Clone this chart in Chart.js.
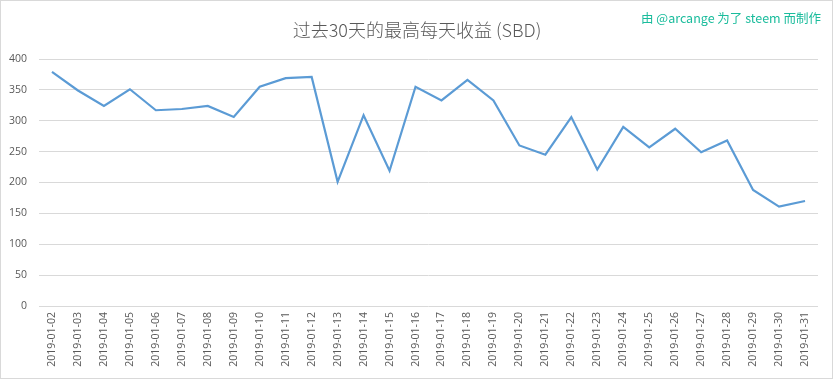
<!DOCTYPE html>
<html>
<head>
<meta charset="utf-8">
<script src="https://cdn.jsdelivr.net/npm/chart.js@4"></script>
<style>
html,body{margin:0;padding:0;background:#fff;}
#wrap{position:relative;width:833px;height:379px;}
</style>
</head>
<body>
<div id="wrap"><canvas id="c" width="833" height="379"></canvas></div>
<script>
const categories = ["2019-01-02","2019-01-03","2019-01-04","2019-01-05","2019-01-06","2019-01-07","2019-01-08","2019-01-09","2019-01-10","2019-01-11","2019-01-12","2019-01-13","2019-01-14","2019-01-15","2019-01-16","2019-01-17","2019-01-18","2019-01-19","2019-01-20","2019-01-21","2019-01-22","2019-01-23","2019-01-24","2019-01-25","2019-01-26","2019-01-27","2019-01-28","2019-01-29","2019-01-30","2019-01-31"];
const maxDailyReward = [379,349,324,351,317,319,324,306,355,369,371,201,309,219,355,333,366,333,260,245,306,221,290,257,287,249,268,188,161,170];
const yTicks = [0,50,100,150,200,250,300,350,400];
const titleText = "过去30天的最高每天收益 (SBD)";
const creditText = "由 @arcange 为了 steem 而制作";

const decor = {
  id: 'decor',
  afterDraw(chart) {
    const ctx = chart.ctx;
    ctx.save();
    ctx.strokeStyle = '#d9d9d9';
    ctx.lineWidth = 1;
    ctx.strokeRect(0.5, 0.5, 832, 378);
    ctx.fillStyle = '#595959';
    ctx.font = '300 18px "Noto Sans CJK SC", sans-serif';
    ctx.textAlign = 'center';
    ctx.textBaseline = 'middle';
    ctx.fillText(titleText, 417, 30);
    ctx.fillStyle = '#1abc9c';
    ctx.font = '12.5px "Noto Sans CJK SC", sans-serif';
    ctx.textAlign = 'right';
    ctx.fillText(creditText, 821, 18);
    ctx.restore();
  }
};

new Chart(document.getElementById('c'), {
  type: 'line',
  data: {
    labels: categories,
    datasets: [{
      data: maxDailyReward,
      borderColor: '#5b9bd5',
      borderWidth: 2.2,
      pointRadius: 0,
      tension: 0,
      fill: false
    }]
  },
  options: {
    responsive: false,
    animation: false,
    layout: { padding: { top: 59, left: 0, right: 15, bottom: 6 } },
    plugins: { legend: { display: false }, tooltip: { enabled: false }, title: { display: false } },
    scales: {
      x: {
        offset: true,
        grid: { display: false, drawTicks: false },
        border: { display: false },
        ticks: {
          minRotation: 90, maxRotation: 90, autoSkip: false, padding: 6,
          color: '#595959', font: { family: '"Open Sans", sans-serif', size: 10.5 }
        },
        afterFit(scale) { scale.height = 67; }
      },
      y: {
        min: 0, max: 400,
        afterBuildTicks(scale) { scale.ticks = yTicks.map(v => ({ value: v })); },
        grid: { color: '#d9d9d9', drawTicks: false, lineWidth: 1 },
        border: { display: false },
        ticks: {
          padding: 12, color: '#595959',
          font: { family: '"Open Sans", sans-serif', size: 10.5 }
        },
        afterFit(scale) { scale.width = 39; }
      }
    }
  },
  plugins: [decor]
});
</script>
</body>
</html>
